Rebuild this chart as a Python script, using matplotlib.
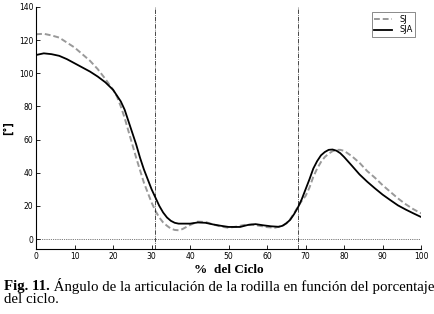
import matplotlib
matplotlib.use("Agg")
import matplotlib.pyplot as plt

# % of gait cycle and knee angle (deg)
x_sja = [0, 2, 4, 6, 8, 10, 12, 14, 16, 18, 20, 22, 23, 24, 25, 26, 27, 28, 29, 30,
         31, 32, 33, 34, 35, 36, 37, 40, 42, 44, 46, 48, 50, 53, 55, 57, 59, 61, 63,
         64, 65, 66, 67, 68, 69, 70, 71, 72, 73, 74, 75, 76, 77, 78, 79, 80, 82, 84,
         86, 88, 90, 92, 94, 96, 98, 100]
sja = [111, 112, 111.5, 110.5, 108.5, 106, 103.5, 101, 98, 94.5, 90, 83, 78, 71, 64,
       57, 49, 42, 36, 30, 25, 20, 16, 13, 11, 9.8, 9.3, 9.3, 10, 9.8, 8.8, 8, 7.3,
       7.3, 8.5, 9, 8.3, 7.7, 7.4, 8, 9.5, 11.6, 15, 19, 24, 30, 36, 42.5, 47, 50.5,
       52.5, 53.8, 54, 53.3, 51.8, 49.5, 44.3, 39, 34.6, 30.6, 26.8, 23.5, 20.3, 17.8,
       15.5, 13.3]

x_sj = [0, 2, 4, 6, 8, 10, 12, 14, 16, 18, 20, 21, 22, 23, 24, 25, 26, 27, 28, 29, 30,
        31, 32, 33, 34, 35, 36, 37, 38, 40, 42, 44, 46, 48, 50, 52, 54, 56, 58, 60, 62,
        64, 65, 66, 67, 68, 69, 70, 71, 72, 73, 74, 75, 76, 77, 78, 79, 80, 82, 84, 86,
        88, 90, 92, 94, 96, 98, 100]
sj = [123.5, 123.8, 122.8, 121.5, 118.5, 115.5, 111.5, 107.5, 102.5, 96.5, 90, 86, 80,
      73, 65, 57, 49, 41.5, 34, 28, 22, 17, 13, 10, 8, 6.3, 5.5, 5.3, 6, 8.5, 10.5,
      10.3, 8.8, 7.5, 6.8, 7.5, 8.5, 8.8, 8, 7.2, 6.8, 8, 9.5, 12, 15.5, 19.5, 23, 26,
      31, 37.5, 42.5, 46.5, 49.5, 51.5, 53, 53.8, 53.8, 53.2, 50, 46, 41, 37, 32.5,
      28.5, 24.5, 21, 18, 15.5]

phase_marks = [31, 68]
xticks = list(range(0, 101, 10))
yticks = list(range(0, 141, 20))

fig = plt.figure(figsize=(4.35, 3.14), dpi=100)
ax = fig.add_axes([0.083, 0.207, 0.885, 0.771])

ax.plot(x_sj, sj, color="#999999", linestyle=(0, (3, 1.5)), linewidth=1.4, label="SJ")
ax.plot(x_sja, sja, color="black", linewidth=1.3, label="SJA")
for m in phase_marks:
    ax.axvline(m, color="black", linestyle="-.", linewidth=0.5)
ax.axhline(0, color="black", linestyle=":", linewidth=0.5)

ax.set_xlim(0, 100)
ax.set_ylim(-6, 140)
ax.set_xticks(xticks)
ax.set_yticks(yticks)
ax.tick_params(direction="in", length=3, width=0.6, labelsize=5.5, pad=2)
for s in ["top", "right"]:
    ax.spines[s].set_visible(False)
for s in ["left", "bottom"]:
    ax.spines[s].set_linewidth(0.8)

ax.set_ylabel("[°]", fontsize=7, fontweight="bold", labelpad=4)
ax.set_xlabel("%  del Ciclo", fontsize=9.5, family="Liberation Serif", fontweight="bold", labelpad=2)

leg = ax.legend(loc="upper right", fontsize=6, frameon=True, fancybox=False,
                handlelength=2.2, borderpad=0.3, labelspacing=0.2, bbox_to_anchor=(0.995, 0.995))
leg.get_frame().set_edgecolor("#555555")
leg.get_frame().set_linewidth(0.6)

# caption: bold "Fig. 11." followed by regular text
cap_size = 10.7
t1 = fig.text(0.009, 0.089, "Fig. 11.", fontsize=cap_size, family="Liberation Serif",
              fontweight="bold", va="center")
fig.canvas.draw()
bb = t1.get_window_extent(fig.canvas.get_renderer())
x_next = bb.x1 / fig.bbox.width
fig.text(x_next, 0.089, " Ángulo de la articulación de la rodilla en función del porcentaje",
         fontsize=cap_size, family="Liberation Serif", va="center")
fig.text(0.009, 0.046, "del ciclo.", fontsize=cap_size, family="Liberation Serif", va="center")

fig.savefig("out.png", dpi=100)
